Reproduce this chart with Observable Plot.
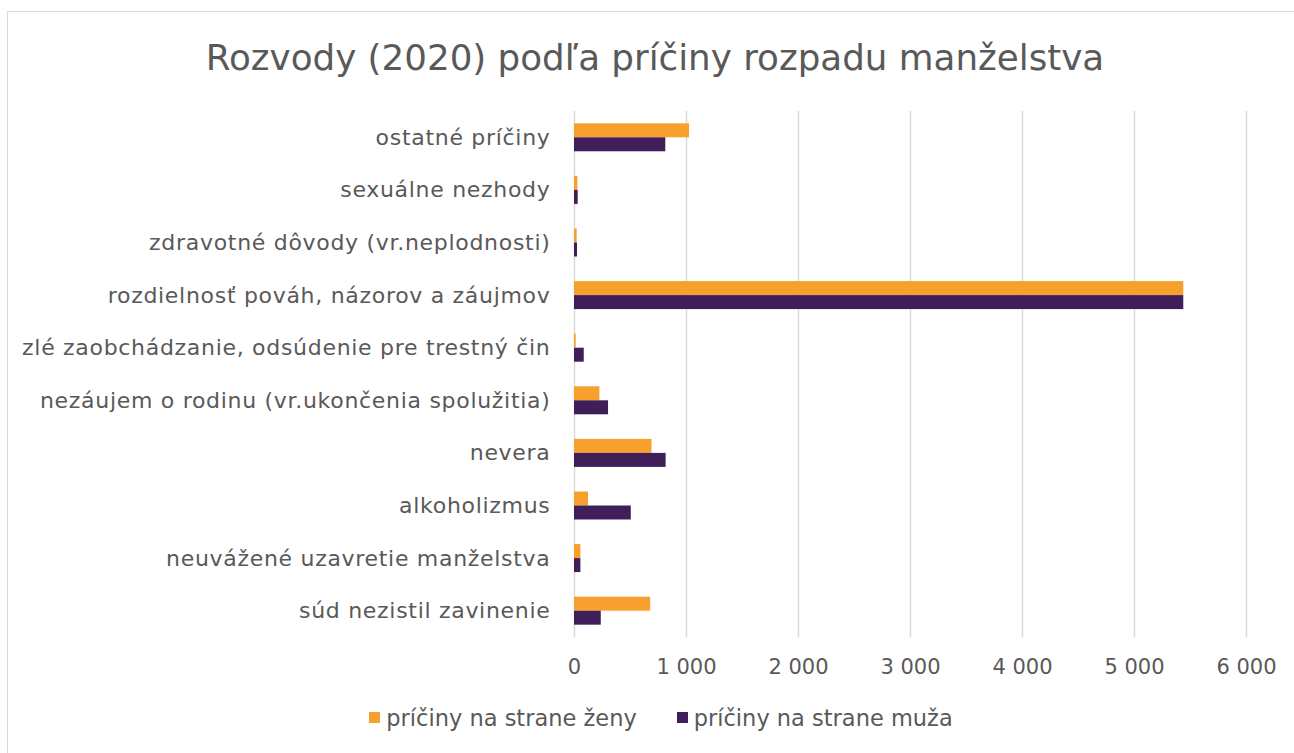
<!DOCTYPE html>
<html><head><meta charset="utf-8">
<script src="https://cdn.jsdelivr.net/npm/d3@7"></script>
<script src="https://cdn.jsdelivr.net/npm/@observablehq/plot@0.6"></script>
<style>
body{margin:0;background:#fff;font-family:"DejaVu Sans",sans-serif;color:#595959;}
#wrap{position:relative;width:1294px;height:753px;overflow:hidden;}
#frame{position:absolute;left:7px;top:11px;width:1300px;height:760px;border:1.5px solid #d9d9d9;box-sizing:border-box;}
#title{position:absolute;left:0;width:1310px;top:37px;text-align:center;font-size:35.7px;color:#595959;white-space:nowrap;}
#chart{position:absolute;left:0;top:0;}
#legend{position:absolute;left:0;width:1322px;top:705px;text-align:center;font-size:22.5px;white-space:nowrap;}
.sw{display:inline-block;width:11px;height:11px;margin-right:6px;vertical-align:middle;position:relative;top:-2px;}
.li{display:inline-block;margin:0 20px;}
#chart svg g[aria-label="fy-axis tick label"] text{letter-spacing:0.7px;}
</style></head>
<body>
<div id="wrap">
<div id="frame"></div>
<div id="title">Rozvody (2020) podľa príčiny rozpadu manželstva</div>
<div id="chart"></div>
<div id="legend"></div>
</div>
<script>
const categories = [
  "ostatné príčiny",
  "sexuálne nezhody",
  "zdravotné dôvody (vr.neplodnosti)",
  "rozdielnosť pováh, názorov a záujmov",
  "zlé zaobchádzanie, odsúdenie pre trestný čin",
  "nezáujem o rodinu (vr.ukončenia spolužitia)",
  "nevera",
  "alkoholizmus",
  "neuvážené uzavretie manželstva",
  "súd nezistil zavinenie"
];
const seriesNames = ["príčiny na strane ženy", "príčiny na strane muža"];
const zeny = [1027, 30, 24, 5440, 15, 227, 692, 125, 57, 680];
const muza = [815, 33, 27, 5440, 87, 304, 818, 507, 57, 239];
const xTicks = [0, 1000, 2000, 3000, 4000, 5000, 6000];
const colors = ["#f7a02d", "#401e5a"];

const data = [];
categories.forEach((c, i) => {
  data.push({category: c, series: seriesNames[0], value: zeny[i]});
  data.push({category: c, series: seriesNames[1], value: muza[i]});
});

const fmt = d => d3.format(",")(d).replace(/,/g, " ");

const chart = Plot.plot({
  width: 1294,
  height: 690,
  marginLeft: 574,
  marginRight: 48,
  marginTop: 111,
  marginBottom: 53,
  style: {fontFamily: "DejaVu Sans, sans-serif", fontSize: "22px", color: "#595959", background: "transparent"},
  x: {domain: [0, 6000], ticks: xTicks, tickFormat: fmt, tickSize: 0, tickPadding: 22, label: null},
  fy: {domain: categories, padding: 0, round: false, tickSize: 0, tickPadding: 24, label: null, axis: "left"},
  y: {domain: seriesNames, axis: null, round: false, paddingInner: 0, paddingOuter: 0.88},
  color: {domain: seriesNames, range: colors},
  marks: [
    Plot.ruleX(xTicks, {stroke: "#d9d9d9", strokeWidth: 1.5}),
    Plot.barX(data, {x: "value", y: "series", fy: "category", fill: "series"})
  ]
});
document.getElementById("chart").appendChild(chart);
// x tick labels slightly smaller than category labels
chart.querySelectorAll('g[aria-label="x-axis tick label"]').forEach(g => g.setAttribute("font-size", "21px"));

const leg = document.getElementById("legend");
seriesNames.forEach((s, i) => {
  const span = document.createElement("span");
  span.className = "li";
  span.innerHTML = `<span class="sw" style="background:${colors[i]}"></span>${s}`;
  leg.appendChild(span);
});
</script>
</body></html>
